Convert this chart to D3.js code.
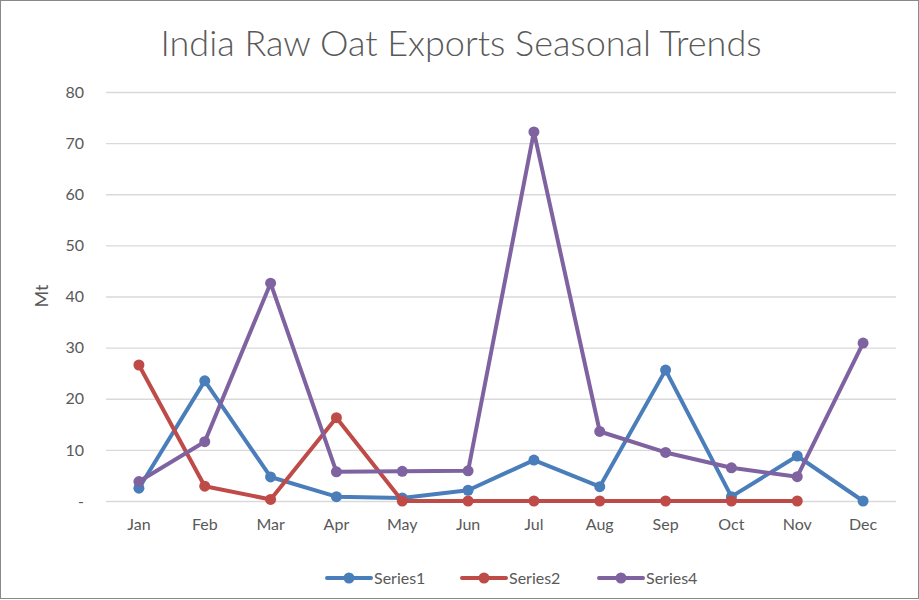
<!DOCTYPE html>
<html><head><meta charset="utf-8">
<script src="https://cdn.jsdelivr.net/npm/d3@7"></script>
<style>body{margin:0;background:#fff}svg{display:block}</style>
</head><body><svg id="c" width="919" height="600"></svg>
<script>
const months = ["Jan","Feb","Mar","Apr","May","Jun","Jul","Aug","Sep","Oct","Nov","Dec"];
const series1 = [2.5,23.5,4.7,0.85,0.6,2.1,8.0,2.8,25.6,0.85,8.8,0];
const series2 = [26.6,2.9,0.3,16.3,0,0,0,0,0,0,0,null];
const series4 = [3.8,11.6,42.6,5.7,5.8,5.9,72.2,13.6,9.5,6.5,4.75,30.9];
const yTicks = [0,10,20,30,40,50,60,70,80];
const yTickLabels = ["-","10","20","30","40","50","60","70","80"];
const seriesNames = ["Series1","Series2","Series4"];
const colors = ["#4A7EBB","#BE4B48","#7F63A1"];

const svg = d3.select("#c");
const ff = "Lato, sans-serif";
svg.append("rect").attr("x",0.5).attr("y",0.5).attr("width",918).attr("height",598)
  .attr("fill","#fff").attr("stroke","#898989").attr("stroke-width",1);

const L=106,R=896,T=92,B=501;
const x = d3.scaleBand().domain(months).range([L,R]);
const y = d3.scaleLinear().domain([0,80]).range([B,T]);

svg.append("text").attr("x",461).attr("y",56).attr("text-anchor","middle")
  .attr("font-family",ff).attr("font-weight",300).attr("font-size",36)
  .attr("fill","#595959").text("India Raw Oat Exports Seasonal Trends");

const gy = svg.append("g").attr("transform",`translate(${L},0)`)
  .call(d3.axisLeft(y).tickValues(yTicks).tickSize(-(R-L)).tickPadding(22)
    .tickFormat((d,i)=>yTickLabels[i]));
gy.select(".domain").remove();
gy.selectAll(".tick line").attr("stroke","#D9D9D9").attr("stroke-width",1.3);
gy.selectAll(".tick text").attr("font-family",ff).attr("font-size",16).attr("fill","#595959");

const gx = svg.append("g").attr("transform",`translate(0,${B})`)
  .call(d3.axisBottom(x).tickSize(0).tickPadding(18));
gx.select(".domain").remove();
gx.selectAll(".tick text").attr("font-family",ff).attr("font-size",16).attr("fill","#595959");

svg.append("text").attr("transform","translate(48,296) rotate(-90)").attr("text-anchor","middle")
  .attr("font-family",ff).attr("font-size",18).attr("fill","#595959").text("Mt");

const all=[series1,series2,series4];
const line = d3.line().defined(d=>d.v!=null).x(d=>x(d.m)+x.bandwidth()/2).y(d=>y(d.v));
all.forEach((s,i)=>{
  const data = s.map((v,j)=>({m:months[j],v}));
  svg.append("path").datum(data).attr("d",line).attr("fill","none")
    .attr("stroke",colors[i]).attr("stroke-width",4).attr("stroke-linejoin","round").attr("stroke-linecap","round");
  svg.selectAll(null).data(data.filter(d=>d.v!=null)).enter().append("circle")
    .attr("cx",d=>x(d.m)+x.bandwidth()/2).attr("cy",d=>y(d.v)).attr("r",5.5).attr("fill",colors[i]);
});

const legX=[327,462,599];
seriesNames.forEach((n,i)=>{
  const g=svg.append("g").attr("transform",`translate(${legX[i]},578)`);
  g.append("line").attr("x1",0).attr("x2",44).attr("stroke",colors[i]).attr("stroke-width",4).attr("stroke-linecap","round");
  g.append("circle").attr("cx",22).attr("r",5.5).attr("fill",colors[i]);
  g.append("text").attr("x",47).attr("y",6).attr("font-family",ff).attr("font-size",16)
    .attr("fill","#595959").text(n);
});
</script></body></html>
